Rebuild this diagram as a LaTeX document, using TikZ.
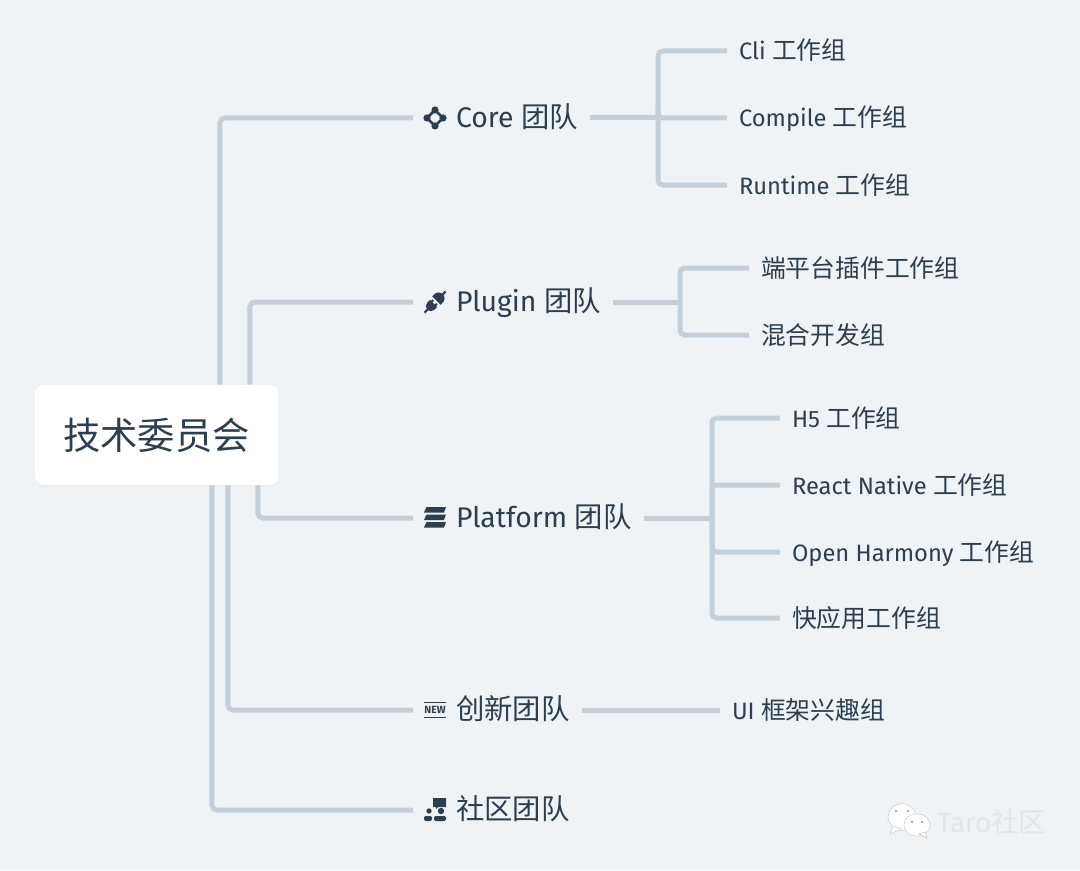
\documentclass[tikz,border=0pt]{standalone}
\usepackage{fontspec}
\usepackage{xcolor}
\usetikzlibrary{shadows}
\setmainfont{Fira Sans}
\newfontfamily\cjk{Noto Sans CJK SC}
\newcommand{\zh}[1]{{\cjk #1}}
\newcommand{\zg}[1]{{\cjk\fontsize{18.6}{22}\selectfont #1}}
\definecolor{pagebg}{HTML}{EFF3F6}
\definecolor{linkgray}{HTML}{C3D0DC}
\definecolor{inkblue}{HTML}{2C3E4F}
\tikzset{
    link/.style = {draw=linkgray, line width=3.75pt, rounded corners=3.5pt},
    root-box/.style = {fill=white, rounded corners=6pt, minimum width=182.25pt, minimum height=75pt, inner sep=0pt, text=inkblue, font=\cjk\fontsize{28}{32}\selectfont, drop shadow={opacity=0.06, shadow xshift=0pt, shadow yshift=-1pt}},
    team/.style = {anchor=west, inner xsep=0pt, outer xsep=9pt, inner ysep=0pt, text=inkblue, text height=15pt, text depth=0.5pt, font=\fontsize{21.3}{25}\selectfont},
    group/.style = {anchor=west, inner xsep=0pt, outer xsep=9pt, inner ysep=0pt, text=inkblue, text height=13.5pt, text depth=0pt, font=\fontsize{17.8}{22}\selectfont},
    mark-box/.style = {minimum size=16.5pt, inner sep=0pt, outer xsep=8.25pt, outer ysep=0pt},
    pics/coremark/.style = {code={
        \draw[inkblue, line width=2pt] (0,-8) -- (8,0) -- (0,8) -- (-8,0) -- cycle;
        \foreach \a/\b in {0/-8, 8/0, 0/8, -8/0} \fill[inkblue] (\a,\b) circle (2.7pt);
    }},
    pics/pluginmark/.style = {code={
        \begin{scope}[rotate=45]
        \fill[inkblue] (2,-6) -- (5,-6) arc (-90:90:6) -- (2,6) -- cycle;
        \draw[inkblue, line width=1.6pt] (9,0) -- (15,0);
        \fill[inkblue] (-2,-5) -- (-6,-5) arc (270:90:5) -- (-2,5) -- cycle;
        \draw[inkblue, line width=1.6pt] (-10,0) -- (-15,0) (-3,-2.5) -- (0,-2.5) (-3,2.5) -- (0,2.5);
        \end{scope}
    }},
    pics/platformmark/.style = {code={
        \foreach \b in {-11,-3.5,4} \fill[inkblue] (-8.5,\b) -- (11,\b) -- (9,\b+5.5) -- (-11,\b+5.5) -- cycle;
    }},
    pics/newsmark/.style = {code={
        \draw[inkblue, line width=1pt] (-11,-7.5) -- (11,-7.5) (-11,7.5) -- (11,7.5);
        \node[inkblue, inner sep=0pt, font=\bfseries\fontsize{7.8}{8}\selectfont] (newword) at (0,0) {NEW};
    }},
    pics/socialmark/.style = {code={
        \fill[inkblue] (-2,-12) -- (11,-12) -- (11,-3) -- (3,-3) -- (1,-1) -- (1,-3) -- (-2,-3) -- cycle;
        \fill[inkblue] (-6,1) circle (2pt) (6,1) circle (2.4pt);
        \fill[inkblue, rounded corners=1.5pt] (-11,11) -- (-11,6) -- (-3,6) -- (-3,11) -- cycle;
        \fill[inkblue, rounded corners=1.5pt] (-1,11) -- (-1,6) -- (11,6) -- (11,11) -- cycle;
    }},
}

\begin{document}
\begin{tikzpicture}[x=0.75pt, y=-0.75pt]
\fill[pagebg] (0,0) rectangle (1080,870);
\useasboundingbox (0,0) rectangle (1080,870);

\node [root-box] (root) at (156.5,435) {技术委员会};

% teams
\foreach \name/\y/\txt in {core/118/{Core \zh{团队}}, plugin/302/{Plugin \zh{团队}}, platform/518/{Platform \zh{团队}}, news/710/{\zh{创新团队}}, social/810/{\zh{社区团队}}}{
    \node [mark-box] (\name-mark) at (435,\y) {};
    \path (\name-mark) pic {\name mark};
    \node [team] (\name) at (444,\y) {\txt};
}

% work groups
\node [group] (cli) at (727,51) {Cli \zg{工作组}};
\node [group] (compile) at (727,118) {Compile \zg{工作组}};
\node [group] (runtime) at (727,185) {Runtime \zg{工作组}};
\node [group] (duan) at (749,268) {\zg{端平台插件工作组}};
\node [group] (mix) at (749,335) {\zg{混合开发组}};
\node [group] (hfive) at (780,418) {H5 \zg{工作组}};
\node [group] (rn) at (780,485) {React Native \zg{工作组}};
\node [group] (harmony) at (780,552) {Open Harmony \zg{工作组}};
\node [group] (quick) at (780,618) {\zg{快应用工作组}};
\node [group] (ui) at (720,710) {UI \zg{框架兴趣组}};

% root to teams
\draw[link] ([xshift=47.6pt]root.north) |- (core-mark);
\draw[link] ([xshift=70.1pt]root.north) |- (plugin-mark);
\draw[link] ([xshift=76.1pt]root.south) |- (platform-mark);
\draw[link] ([xshift=53.6pt]root.south) |- (news-mark);
\draw[link] ([xshift=41.6pt]root.south) |- (social-mark);

% teams to groups
\coordinate (core-fork) at (658,118);
\coordinate (plugin-fork) at (680,302);
\coordinate (platform-fork) at (712,518);
\draw[link] (core.east) -- (core-fork);
\foreach \g in {cli,compile,runtime} \draw[link] (core-fork) |- (\g.west);
\draw[link] (plugin.east) -- (plugin-fork);
\foreach \g in {duan,mix} \draw[link] (plugin-fork) |- (\g.west);
\draw[link] (platform.east) -- (platform-fork);
\foreach \g in {hfive,rn,harmony,quick} \draw[link] (platform-fork) |- (\g.west);
\draw[link] (news.east) -- (ui.west);

% watermark
\begin{scope}[fill=white, draw=black!18, line width=0.5pt]
\filldraw (902,817) ellipse (10.5pt and 10pt);
\filldraw (893,826) -- (890,834) -- (901,829) -- cycle;
\filldraw (917,825) ellipse (9.8pt and 8.4pt);
\filldraw (925,832) -- (927,838) -- (919,834) -- cycle;
\end{scope}
\fill[black!35] (896,811) circle (1pt) (908,811) circle (1pt) (912,822) circle (1pt) (922,822) circle (1pt);
\node [anchor=west, inner sep=0pt, text=black!10, font=\fontsize{20.7}{24}\selectfont] (mark-text) at (937,822) {Taro\zh{社区}};
\end{tikzpicture}
\end{document}
